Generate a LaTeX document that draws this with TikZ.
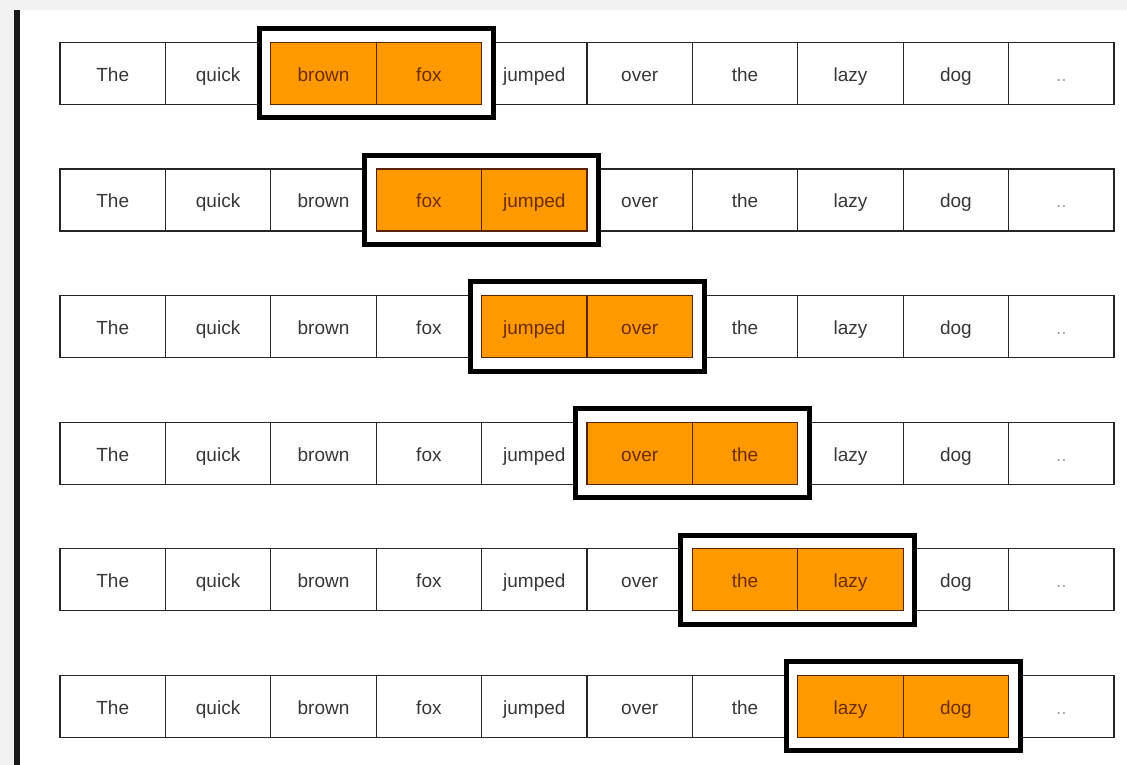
\documentclass[tikz,border=0pt]{standalone}
\usepackage{fontspec}
\setmainfont{Liberation Sans}
\usetikzlibrary{fit}

\definecolor{hilite}{RGB}{255,153,0}
\definecolor{wordgray}{RGB}{55,55,55}
\definecolor{hotword}{RGB}{110,45,0}
\definecolor{margin}{RGB}{242,242,242}

\newcommand\wordlist{The,quick,brown,fox,jumped,over,the,lazy,dog,..}

\tikzset{
	cell/.style={draw=black!85, line width=1.2pt, minimum width=105.4pt, minimum height=62pt,
		inner sep=0pt, text height=20pt, text depth=4pt, text=wordgray,
		font=\fontsize{19}{22}\selectfont},
	hot/.style={fill=hilite, draw=hotword!80!black, text=hotword},
	window/.style={draw=black, line width=5pt, fill=white, inner xsep=11pt, inner ysep=13pt}
}

\begin{document}
\begin{tikzpicture}[x=1pt,y=-1pt]
	\useasboundingbox (0,0) rectangle (1127,765);
	% page margin and left rule
	\fill[margin] (0,0) rectangle (1127,10);
	\fill[margin] (0,0) rectangle (14,765);
	\fill[black!90] (14,10) rectangle (20,765);
	% one row per window position
	\foreach \r in {0,...,5} {
		\pgfmathtruncatemacro\ha{\r+2}
		\pgfmathtruncatemacro\hb{\r+3}
		\foreach \w [count=\c from 0] in \wordlist {
			\ifnum\c=9
				\node[cell, text=black!35] (w\r-\c) at ({112.7+105.4*\c},{73.3+126.6*\r}) {\w};
			\else
				\node[cell] (w\r-\c) at ({112.7+105.4*\c},{73.3+126.6*\r}) {\w};
			\fi
		}
		\node[window, fit=(w\r-\ha)(w\r-\hb)] (win\r) {};
		\foreach \w [count=\c from 0] in \wordlist {
			\ifnum\c=\ha \node[cell,hot] (hot\r-\c) at (w\r-\c) {\w}; \fi
			\ifnum\c=\hb \node[cell,hot] (hot\r-\c) at (w\r-\c) {\w}; \fi
		}
	}
\end{tikzpicture}
\end{document}
